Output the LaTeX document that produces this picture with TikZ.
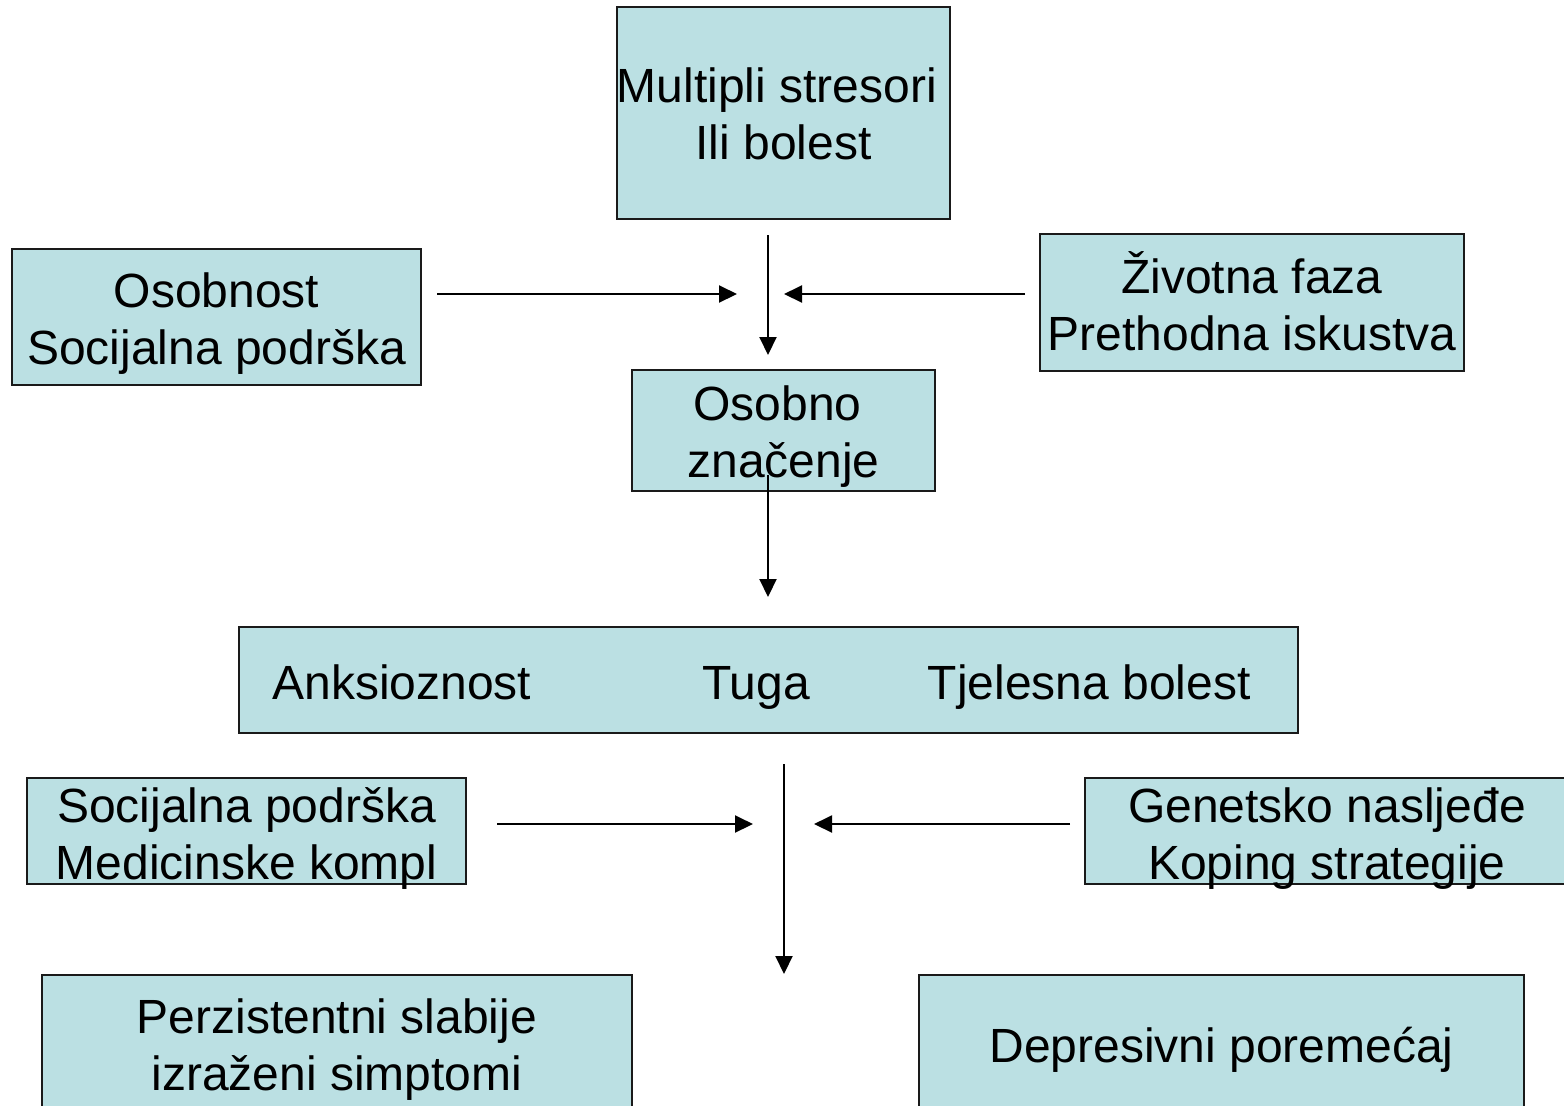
\documentclass[tikz,border=0pt]{standalone}
\usepackage{fontspec}
\setmainfont{Liberation Sans}
\usepackage{tikz}
\usetikzlibrary{arrows.meta, positioning}
\usepackage{xcolor}
\definecolor{BoxBlue}{HTML}{BBE0E3}
\definecolor{RichBlack}{HTML}{1A1A1A}
\tikzset{%
  box/.style={%
    rectangle,%
    draw=RichBlack,%
    fill=BoxBlue,%
    line width=1pt,%
    inner sep=0pt,%
    align=center,%
    text height=0pt,%
    text depth=0pt,%
    font={\fontsize{24}{28.75}\selectfont},%
  },
  signal/.style={%
    color=black,%
    line width=1pt,%
    line join=round,%
  },
  arrow/.style={-{Triangle[length=9pt, width=8.5pt]}},
}

\begin{document}
\begin{tikzpicture}[x=0.5pt, y=-0.5pt]
    \useasboundingbox (0,0) rectangle (1564,1105);
    \clip (0,0) rectangle (1564,1105);

    % boxes (text height moves the last baseline below the centre)
    \node [box, text height=46.5pt, minimum width=166.5pt, minimum height=106pt]
      (Stress) at (783.5,113) {Multipli stresori\kern6.5pt\\Ili bolest};
    \node [box, text height=47.5pt, minimum width=204.5pt, minimum height=68pt]
      (Person) at (216.5,317) {Osobnost\\Socijalna podrška};
    \node [box, text height=48pt, minimum width=212pt, minimum height=68.5pt]
      (Life) at (1252,302.5) {Životna faza\\Prethodna iskustva};
    \node [box, text height=47pt, minimum width=151.5pt, minimum height=60.5pt]
      (Meaning) at (783.5,430.5) {Osobno\kern6pt\\značenje};
    \node [box, text height=19pt, minimum width=529.5pt, minimum height=53pt]
      (Emotion) at (768.5,680)
      {Anksioznost\hspace{85.5pt}Tuga\hspace{59pt}Tjelesna bolest\kern7pt};
    \node [box, text height=48.5pt, minimum width=219.5pt, minimum height=53pt]
      (Support) at (246.5,831) {Socijalna podrška\\Medicinske kompl};
    \node [box, text height=48.5pt, minimum width=242pt, minimum height=53pt]
      (Genes) at (1327,831) {Genetsko nasljeđe\\Koping strategije};
    \node [box, text height=45.5pt, minimum width=295pt, minimum height=70pt]
      (Mild) at (337,1045) {Perzistentni slabije\\izraženi simptomi};
    \node [box, text height=17pt, minimum width=302.5pt, minimum height=70pt]
      (Disorder) at (1221.5,1045) {Depresivni poremećaj};

    % free arrow ends
    \coordinate (top_in) at (768,235);
    \coordinate (top_out) at (768,355);
    \coordinate (left_in) at (437,294);
    \coordinate (left_out) at (737,294);
    \coordinate (right_in) at (1025,294);
    \coordinate (right_out) at (784,294);
    \coordinate (mid_in) at (768,475);
    \coordinate (mid_out) at (768,597);
    \coordinate (low_in) at (784,764);
    \coordinate (low_out) at (784,974);
    \coordinate (low_left_in) at (497,824);
    \coordinate (low_left_out) at (753,824);
    \coordinate (low_right_in) at (1070,824);
    \coordinate (low_right_out) at (814,824);

    \draw [arrow, signal] (top_in) -- (top_out);
    \draw [arrow, signal] (left_in) -- (left_out);
    \draw [arrow, signal] (right_in) -- (right_out);
    \draw [arrow, signal] (mid_in) -- (mid_out);
    \draw [arrow, signal] (low_in) -- (low_out);
    \draw [arrow, signal] (low_left_in) -- (low_left_out);
    \draw [arrow, signal] (low_right_in) -- (low_right_out);
\end{tikzpicture}
\end{document}
